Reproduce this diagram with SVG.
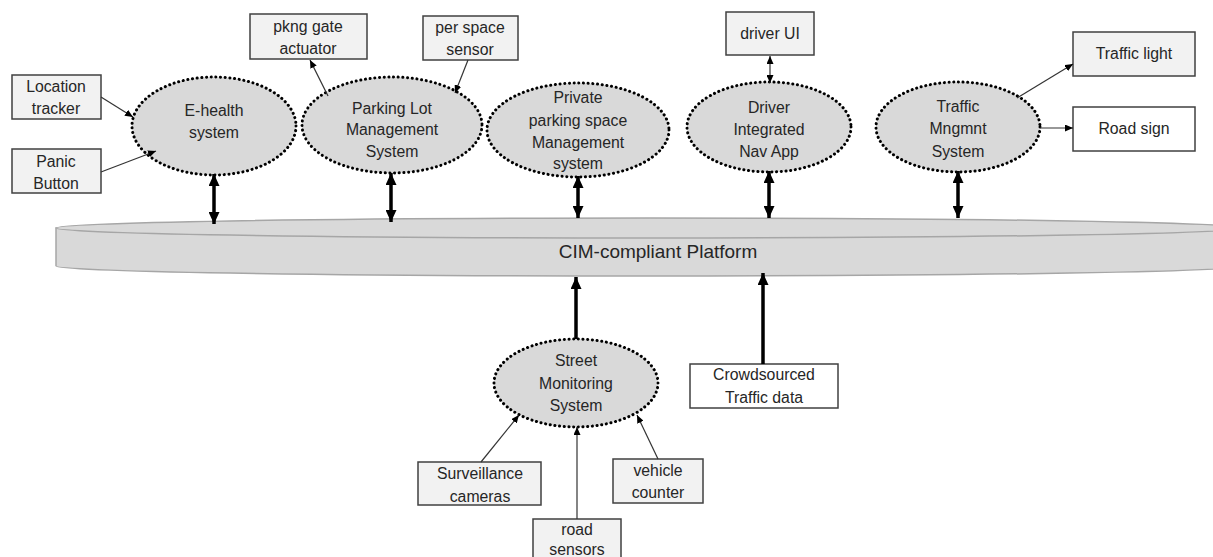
<svg xmlns="http://www.w3.org/2000/svg" width="1213" height="557" viewBox="0 0 1213 557">
<style>
.box{fill:#f2f2f2;stroke:#404040;stroke-width:1.5}
.wbox{fill:#ffffff;stroke:#404040;stroke-width:1.5}
.ell{fill:#d9d9d9;stroke:#000;stroke-width:3;stroke-dasharray:0.1 4.6;stroke-linecap:round}
.t{font-family:"Liberation Sans",Arial,sans-serif;font-size:15.8px;fill:#262626;text-anchor:middle}
.thick{stroke:#000;stroke-width:3.5;fill:none}
.thin{stroke:#333;stroke-width:1.2;fill:none}
</style>
<defs>
<marker id="ah" markerUnits="userSpaceOnUse" markerWidth="12" markerHeight="11" refX="12" refY="5.5" orient="auto-start-reverse"><path d="M0,0 L12,5.5 L0,11 z" fill="#000"/></marker>
<marker id="as" markerUnits="userSpaceOnUse" markerWidth="8" markerHeight="7" refX="8" refY="3.5" orient="auto-start-reverse"><path d="M0,0 L8,3.5 L0,7 z" fill="#000"/></marker>
</defs>
<g id="platform">
<path d="M56,228 L56,266 A594,10 0 0 0 1244,266 L1244,228 z" fill="#d9d9d9" stroke="#a6a6a6" stroke-width="1.5"/>
<ellipse cx="650" cy="228" rx="594" ry="10" fill="#d9d9d9" stroke="#a6a6a6" stroke-width="1.5"/>
<text class="t" x="658" y="258" style="font-size:19px">CIM-compliant Platform</text>
</g>
<g id="ehealth">
<ellipse class="ell" cx="214" cy="126" rx="82" ry="49"/>
<text class="t" x="214" y="116">E-health</text>
<text class="t" x="214" y="138">system</text>
</g>
<g id="parkinglot">
<ellipse class="ell" cx="392" cy="125" rx="90" ry="48"/>
<text class="t" x="392" y="114">Parking Lot</text>
<text class="t" x="392" y="135">Management</text>
<text class="t" x="392" y="157">System</text>
</g>
<g id="private">
<ellipse class="ell" cx="578" cy="130" rx="91" ry="47"/>
<text class="t" x="578" y="103">Private</text>
<text class="t" x="578" y="126">parking space</text>
<text class="t" x="578" y="148">Management</text>
<text class="t" x="578" y="169">system</text>
</g>
<g id="driver">
<ellipse class="ell" cx="769" cy="127" rx="82" ry="45"/>
<text class="t" x="769" y="113">Driver</text>
<text class="t" x="769" y="135">Integrated</text>
<text class="t" x="769" y="157">Nav App</text>
</g>
<g id="traffic">
<ellipse class="ell" cx="958" cy="127" rx="82" ry="45"/>
<text class="t" x="958" y="112">Traffic</text>
<text class="t" x="958" y="134">Mngmnt</text>
<text class="t" x="958" y="157">System</text>
</g>
<g id="street">
<ellipse class="ell" cx="576" cy="383" rx="82" ry="44"/>
<text class="t" x="576" y="366">Street</text>
<text class="t" x="576" y="389">Monitoring</text>
<text class="t" x="576" y="411">System</text>
</g>
<g id="gate">
<rect class="box" x="250" y="14" width="117" height="45"/>
<text class="t" x="308" y="32">pkng gate</text>
<text class="t" x="308" y="54">actuator</text>
</g>
<g id="location">
<rect class="box" x="12" y="75" width="89" height="44"/>
<text class="t" x="56" y="92">Location</text>
<text class="t" x="56" y="114">tracker</text>
</g>
<g id="panic">
<rect class="box" x="12" y="149" width="89" height="44"/>
<text class="t" x="56" y="167">Panic</text>
<text class="t" x="56" y="189">Button</text>
</g>
<g id="perspace">
<rect class="box" x="423" y="16" width="95" height="44"/>
<text class="t" x="470" y="33">per space</text>
<text class="t" x="470" y="55">sensor</text>
</g>
<g id="driverui">
<rect class="box" x="726" y="12" width="88" height="43"/>
<text class="t" x="770" y="39">driver UI</text>
</g>
<g id="trafficlight">
<rect class="box" x="1073" y="32" width="122" height="44"/>
<text class="t" x="1134" y="59">Traffic light</text>
</g>
<g id="roadsign">
<rect class="wbox" x="1073" y="107" width="122" height="44"/>
<text class="t" x="1134" y="134">Road sign</text>
</g>
<g id="crowd">
<rect class="wbox" x="690" y="364" width="148" height="44"/>
<text class="t" x="764" y="380">Crowdsourced</text>
<text class="t" x="764" y="403">Traffic data</text>
</g>
<g id="surveillance">
<rect class="box" x="418" y="462" width="123" height="43"/>
<text class="t" x="480" y="479">Surveillance</text>
<text class="t" x="480" y="502">cameras</text>
</g>
<g id="vehicle">
<rect class="box" x="613" y="459" width="90" height="44"/>
<text class="t" x="658" y="476">vehicle</text>
<text class="t" x="658" y="498">counter</text>
</g>
<g id="roadsensors">
<rect class="box" x="533" y="519" width="88" height="45"/>
<text class="t" x="577" y="535">road</text>
<text class="t" x="577" y="555">sensors</text>
</g>
<g id="connectors">
<line class="thick" x1="214" y1="174" x2="214" y2="224" marker-start="url(#ah)" marker-end="url(#ah)"/>
<line class="thick" x1="391" y1="173" x2="391" y2="222" marker-start="url(#ah)" marker-end="url(#ah)"/>
<line class="thick" x1="578" y1="176" x2="578" y2="218" marker-start="url(#ah)" marker-end="url(#ah)"/>
<line class="thick" x1="769" y1="171" x2="769" y2="218" marker-start="url(#ah)" marker-end="url(#ah)"/>
<line class="thick" x1="958" y1="171" x2="958" y2="218" marker-start="url(#ah)" marker-end="url(#ah)"/>
<line class="thick" x1="576" y1="339" x2="576" y2="277" marker-end="url(#ah)"/>
<line class="thick" x1="763" y1="364" x2="763" y2="273" marker-end="url(#ah)"/>
<line class="thin" x1="101" y1="97" x2="133" y2="117" marker-end="url(#as)"/>
<line class="thin" x1="101" y1="172" x2="156" y2="151" marker-end="url(#as)"/>
<line class="thin" x1="328" y1="96" x2="310" y2="60" marker-end="url(#as)"/>
<line class="thin" x1="468" y1="60" x2="455" y2="93" marker-end="url(#as)"/>
<line class="thin" x1="770" y1="56" x2="770" y2="83" marker-start="url(#as)" marker-end="url(#as)"/>
<line class="thin" x1="1017" y1="98" x2="1073" y2="64" marker-end="url(#as)"/>
<line class="thin" x1="1040" y1="128" x2="1073" y2="128" marker-end="url(#as)"/>
<line class="thin" x1="481" y1="462" x2="519" y2="415" marker-end="url(#as)"/>
<line class="thin" x1="577" y1="519" x2="577" y2="427" marker-end="url(#as)"/>
<line class="thin" x1="658" y1="459" x2="637" y2="415" marker-end="url(#as)"/>
</g>
</svg>
